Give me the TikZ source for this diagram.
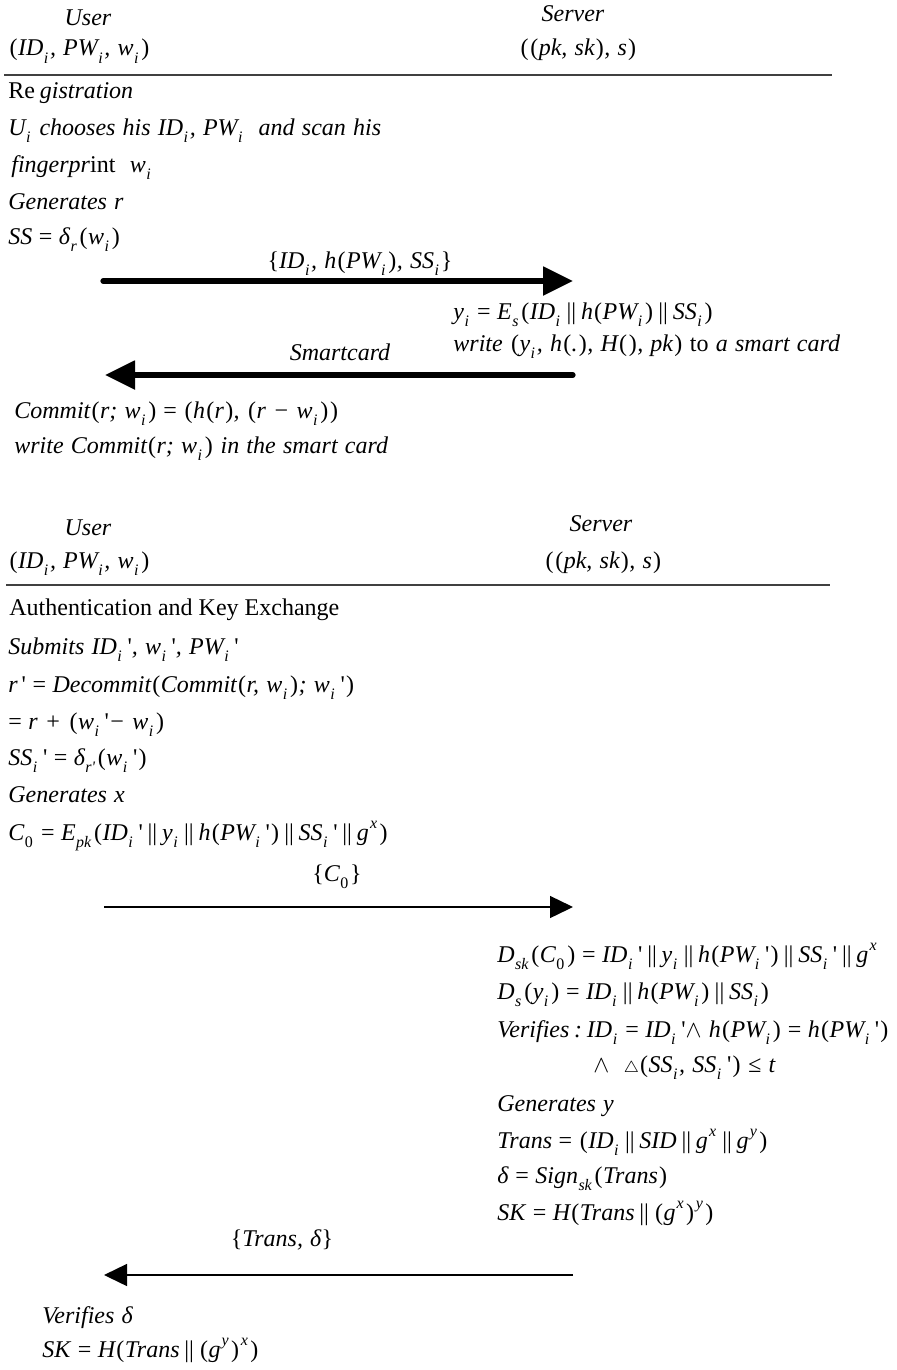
\documentclass[tikz,border=0pt]{standalone}
\usepackage{fontspec}
\setmainfont{Liberation Serif}[Ligatures=TeXOff]
\usetikzlibrary{arrows.meta}
\newcommand\fs{\fontsize{12}{14}\selectfont}
\newcommand\wsp{\spaceskip=0.3em\relax}
\newcommand\Sb[1]{\kern0.02em\raisebox{-0.32em}{\fontsize{8}{8}\selectfont #1}\kern0.07em}
\newcommand\Sp[1]{\kern0.05em\raisebox{0.5em}{\fontsize{8}{8}\selectfont #1}\kern0.05em}
\newcommand\op{\kern0.05em\textup{(}\kern0.02em}
\newcommand\cp{\kern0.05em\textup{)}\kern0.02em}
\newcommand\bars{\hspace{0.2em}\textup{||}\hspace{0.2em}}
\newcommand\eq{\hspace{0.27em}\textup{=}\hspace{0.27em}}
\newcommand\pr{\,\textup{'}}
\newcommand\lb{\textup{\{}}
\newcommand\rb{\textup{\}}}
\tikzset{
  txt/.style={anchor=base west, inner sep=0pt, font=\fs\itshape\wsp},
  ctxt/.style={anchor=base, inner sep=0pt, font=\fs\itshape\wsp},
  thickarrow/.style={line width=2.6pt, line cap=round, -{Triangle[length=15pt,width=14pt]}},
  thinarrow/.style={line width=0.7pt, -{Triangle[length=11.5pt,width=11pt]}},
  rulel/.style={line width=0.6pt, black!75}
}
\begin{document}
\begin{tikzpicture}[x=0.5pt,y=-0.5pt]
\useasboundingbox (0,0) rectangle (897,1370);
% ---------- Registration ----------
\node[ctxt] (user1) at (88,26) {User};
\node[txt] (uid1) at (8,56) {\op ID\Sb{i}, PW\Sb{i}, w\Sb{i}\cp};
\node[ctxt] (server1) at (573,22) {Server};
\node[ctxt] (spk1) at (578,56) {\op\op pk, sk\cp, s\cp};
\coordinate (r1a) at (4,75);
\coordinate (r1b) at (832,75);
\draw[rulel] (r1a) -- (r1b);
\node[txt] (reg) at (8,98) {\textup{Re}\hspace{0.2em}gistration};
\node[txt] (choose) at (8,135) {U\Sb{i}\ chooses his ID\Sb{i}, PW\Sb{i}\ \ and scan his};
\node[txt] (finger) at (11,172) {fingerpr\textup{int}\ \ w\Sb{i}};
\node[txt] (genr) at (8,209) {Generates r};
\node[txt] (ss) at (8,244) {SS\eq δ\Sb{r}\op w\Sb{i}\cp};
\node[ctxt] (lab1) at (360,268) {\lb ID\Sb{i}, h\op PW\Sb{i}\cp, SS\Sb{i}\rb};
\coordinate (a1s) at (103,281);
\coordinate (a1e) at (573,281);
\draw[thickarrow] (a1s) -- (a1e);
\node[txt] (yi) at (453,319) {y\Sb{i}\eq E\Sb{s}\op ID\Sb{i}\bars h\op PW\Sb{i}\cp\bars SS\Sb{i}\cp};
\node[txt] (write) at (453,351) {write \op y\Sb{i}, h\op .\cp, H\op\cp, pk\cp\ \textup{to}\ a smart card};
\node[ctxt] (smart) at (340,360) {Smartcard};
\coordinate (a2s) at (573,375);
\coordinate (a2e) at (105,375);
\draw[thickarrow] (a2s) -- (a2e);
\node[txt] (commit) at (14,418) {Commit\op r; w\Sb{i}\cp\eq\op h\op r\cp, \op r − w\Sb{i}\cp\cp};
\node[txt] (wcommit) at (14,453) {write Commit\op r; w\Sb{i}\cp\ in the smart card};
% ---------- Authentication ----------
\node[ctxt] (user2) at (88,535) {User};
\node[txt] (uid2) at (8,568) {\op ID\Sb{i}, PW\Sb{i}, w\Sb{i}\cp};
\node[ctxt] (server2) at (601,531) {Server};
\node[ctxt] (spk2) at (603,568) {\op\op pk, sk\cp, s\cp};
\coordinate (r2a) at (6,585);
\coordinate (r2b) at (830,585);
\draw[rulel] (r2a) -- (r2b);
\node[txt, font=\fs\upshape] (auth) at (9,615) {Authentication and Key Exchange};
\node[txt] (submits) at (8,654) {Submits ID\Sb{i}\pr, w\Sb{i}\pr, PW\Sb{i}\pr};
\node[txt] (decommit) at (8,692) {r\pr\eq Decommit\op Commit\op r, w\Sb{i}\cp; w\Sb{i}\pr\cp};
\node[txt] (eqr) at (8,729) {\textup{=}\hspace{0.27em}r + \op w\Sb{i}\pr − w\Sb{i}\cp};
\node[txt] (ssi) at (8,765) {SS\Sb{i}\pr\eq δ\Sb{r'}\op w\Sb{i}\pr\cp};
\node[txt] (genx) at (8,802) {Generates x};
\node[txt] (c0) at (8,840) {C\Sb{\textup{0}}\eq E\Sb{pk}\op ID\Sb{i}\pr\bars y\Sb{i}\bars h\op PW\Sb{i}\pr\cp\bars SS\Sb{i}\pr\bars g\Sp{x}\cp};
\node[ctxt] (labc0) at (337,881) {\lb C\Sb{\textup{0}}\rb};
\coordinate (a3s) at (104,907);
\coordinate (a3e) at (573,907);
\draw[thinarrow] (a3s) -- (a3e);
\node[txt] (dsk) at (497,962) {D\Sb{sk}\op C\Sb{\textup{0}}\cp\eq ID\Sb{i}\pr\bars y\Sb{i}\bars h\op PW\Sb{i}\pr\cp\bars SS\Sb{i}\pr\bars g\Sp{x}};
\node[txt] (ds) at (497,999) {D\Sb{s}\op y\Sb{i}\cp\eq ID\Sb{i}\bars h\op PW\Sb{i}\cp\bars SS\Sb{i}\cp};
\node[txt] (ver) at (497,1037) {Verifies\hspace{0.2em}:\hspace{0.2em}ID\Sb{i}\eq ID\Sb{i}\pr$\wedge$\ h\op PW\Sb{i}\cp\eq h\op PW\Sb{i}\pr\cp};
\node[txt] (wedge) at (593,1072) {$\wedge$\ \ $\scriptstyle\triangle$\op SS\Sb{i}, SS\Sb{i}\pr\cp\ ≤ t};
\node[txt] (geny) at (497,1111) {Generates y};
\node[txt] (trans) at (497,1148) {Trans\eq\op ID\Sb{i}\bars SID\bars g\Sp{x}\bars g\Sp{y}\cp};
\node[txt] (delta) at (497,1183) {δ\eq Sign\Sb{sk}\op Trans\cp};
\node[txt] (sk) at (497,1220) {SK\eq H\op Trans\bars\op g\Sp{x}\cp\Sp{y}\cp};
\node[ctxt] (labtr) at (282,1246) {\lb Trans, δ\rb};
\coordinate (a4s) at (573,1275);
\coordinate (a4e) at (104,1275);
\draw[thinarrow] (a4s) -- (a4e);
\node[txt] (verd) at (42,1323) {Verifies δ};
\node[txt] (sk2) at (42,1357) {SK\eq H\op Trans\bars\op g\Sp{y}\cp\Sp{x}\cp};
\end{tikzpicture}
\end{document}
